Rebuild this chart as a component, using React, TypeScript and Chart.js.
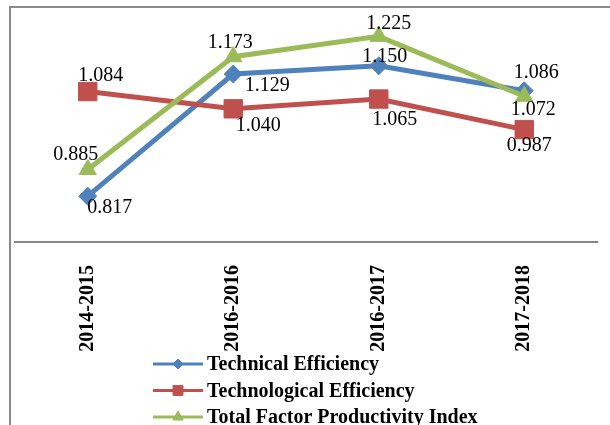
import React, { useEffect, useRef } from "react";
import { Chart, registerables } from "chart.js";
import { drawPoint } from "chart.js/helpers";

Chart.register(...registerables);

const categories = ["2014-2015", "2016-2016", "2016-2017", "2017-2018"];
const technicalEfficiency = [0.817, 1.129, 1.15, 1.086];
const technologicalEfficiency = [1.084, 1.04, 1.065, 0.987];
const tfpIndex = [0.885, 1.173, 1.225, 1.072];
const seriesNames = [
  "Technical Efficiency",
  "Technological Efficiency",
  "Total Factor Productivity Index",
];
const yMin = 0.7;
const yMax = 1.3;

// label offsets (style) relative to each point: [dx, dy]
const labelOffsets = [
  [[22, 12], [34, 12], [6, -9], [12, -18]],
  [[13, -16], [25, 17], [16, 21], [5, 16]],
  [[-12, -15], [-3, -14], [10, -13], [9, 13]],
];

const colors = ["#4F81BD", "#C0504D", "#9BBB59"];
const pointStyles = ["rectRot", "rect", "triangle"];
const pointRadii = [9, 13, 10];
const legendRadii = [5, 7, 6];

const dataLabelPlugin = {
  id: "dataLabels",
  afterDatasetsDraw(chart: any) {
    const ctx = chart.ctx;
    ctx.save();
    ctx.font = '20px "Liberation Serif"';
    ctx.fillStyle = "#000";
    ctx.textAlign = "center";
    ctx.textBaseline = "middle";
    chart.data.datasets.forEach((ds: any, i: number) => {
      const meta = chart.getDatasetMeta(i);
      meta.data.forEach((el: any, j: number) => {
        const [dx, dy] = labelOffsets[i][j];
        ctx.fillText(Number(ds.data[j]).toFixed(3), el.x + dx, el.y + dy);
      });
    });
    ctx.restore();
  },
};

const legendPlugin = {
  id: "customLegend",
  afterDraw(chart: any) {
    const ctx = chart.ctx;
    ctx.save();
    chart.data.datasets.forEach((ds: any, i: number) => {
      const y = 364 + i * 26.5;
      ctx.strokeStyle = colors[i];
      ctx.lineWidth = 3;
      ctx.beginPath();
      ctx.moveTo(153, y);
      ctx.lineTo(203, y);
      ctx.stroke();
      ctx.fillStyle = colors[i];
      ctx.strokeStyle = colors[i];
      ctx.lineWidth = 1;
      drawPoint(ctx, { pointStyle: pointStyles[i], radius: legendRadii[i], rotation: 0, borderWidth: 1 }, 178, y);
      ctx.fillStyle = "#000";
      ctx.font = 'bold 20px "Liberation Serif"';
      ctx.textAlign = "left";
      ctx.textBaseline = "middle";
      ctx.fillText(ds.label, 207, y + 1);
    });
    ctx.restore();
  },
};

export default function App() {
  const ref = useRef<HTMLCanvasElement>(null);
  useEffect(() => {
    if (!ref.current) return;
    const series = [technicalEfficiency, technologicalEfficiency, tfpIndex];
    const chart = new Chart(ref.current, {
      type: "line",
      data: {
        labels: categories,
        datasets: series.map((d, i) => ({
          label: seriesNames[i],
          data: d,
          borderColor: colors[i],
          backgroundColor: colors[i],
          borderWidth: 5,
          pointStyle: pointStyles[i] as any,
          pointRadius: pointRadii[i],
          pointBorderWidth: 1,
          pointBackgroundColor: colors[i],
          pointBorderColor: colors[i],
          tension: 0,
          order: 3 - i,
          clip: false as any,
        })),
      },
      options: {
        responsive: false,
        animation: false,
        layout: { autoPadding: false, padding: { left: 15, right: 13, top: 7, bottom: 0 } },
        plugins: {
          legend: { display: false },
          tooltip: { enabled: false },
        },
        scales: {
          x: {
            offset: true,
            grid: { display: false, drawTicks: false },
            border: { display: true, color: "#868686", width: 2 },
            ticks: {
              minRotation: 90,
              maxRotation: 90,
              padding: 23,
              color: "#000",
              font: { family: '"Liberation Serif"', size: 20, weight: "bold" },
            },
            afterFit: (scale: any) => {
              scale.height = 183;
            },
          },
          y: {
            display: false,
            min: yMin,
            max: yMax,
          },
        },
      },
      plugins: [dataLabelPlugin, legendPlugin],
    });
    return () => chart.destroy();
  }, []);

  return (
    <div
      style={{
        position: "fixed",
        left: 0,
        top: 0,
        width: 610,
        height: 425,
        overflow: "hidden",
        background: "#fff",
      }}
    >
      <div
        style={{
          position: "absolute",
          left: 9,
          top: 6,
          width: 700,
          height: 600,
          border: "2px solid #8a8a8a",
        }}
      />
      <canvas
        ref={ref}
        width={610}
        height={425}
        style={{ position: "absolute", left: 0, top: 0 }}
      />
    </div>
  );
}
